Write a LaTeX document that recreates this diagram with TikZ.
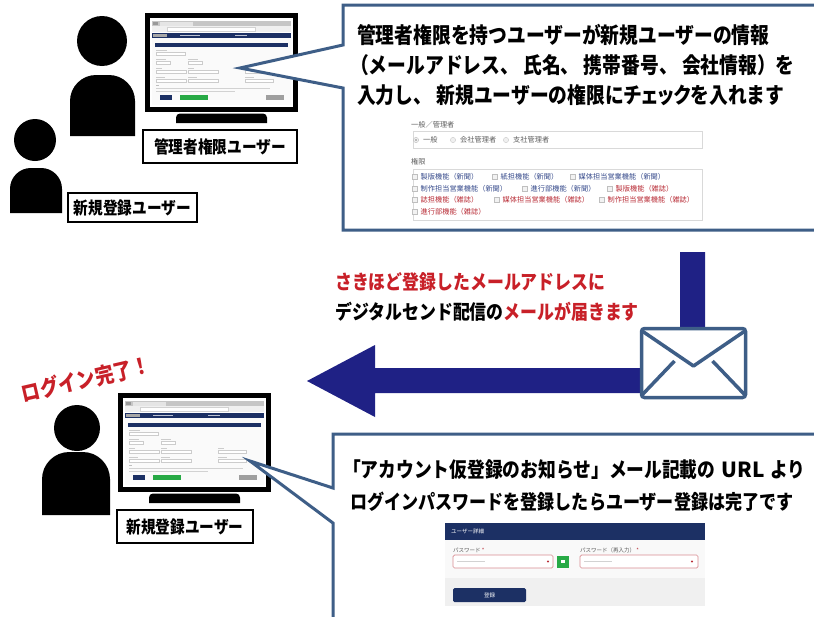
\documentclass[tikz,border=0pt]{standalone}
\usepackage{fontspec}
\newfontfamily\jp[FakeStretch=0.853]{Noto Sans CJK JP}
\newfontfamily\jpui{Noto Sans CJK JP}
\definecolor{slate}{RGB}{62,94,135}
\definecolor{arrowblue}{RGB}{31,33,133}
\definecolor{alertred}{RGB}{200,32,40}
\definecolor{uinavy}{RGB}{28,48,100}
\definecolor{uigreen}{RGB}{40,170,70}
\definecolor{linkblue}{RGB}{55,75,140}
\definecolor{linkred}{RGB}{185,45,55}

% silhouette: x-left, x-right, body top, body bottom, head x, head y, head radius
\newcommand{\silhouette}[7]{%
  \pgfmathsetmacro\bodyR{0.4*(#2-#1)}%
  \fill[black] (#1,#4) -- (#1,#3+\bodyR)
    .. controls (#1,#3+0.45*\bodyR) and (#1+0.45*\bodyR,#3) .. (#1+\bodyR,#3)
    -- (#2-\bodyR,#3)
    .. controls (#2-0.45*\bodyR,#3) and (#2,#3+0.45*\bodyR) .. (#2,#3+\bodyR)
    -- (#2,#4) -- cycle;
  \fill[black] (#5,#6) circle[radius=#7];
}

\tikzset{
  lbl/.style={draw=black, line width=1.8pt, fill=white, inner sep=0pt,
    font=\jp\bfseries\fontsize{17.2}{17.2}\selectfont},
  bigtxt/.style={anchor=base west, inner sep=0pt,
    font=\jp\bfseries\fontsize{22}{22}\selectfont},
  midtxt/.style={anchor=base west, inner sep=0pt,
    font=\jp\bfseries\fontsize{19.8}{19.8}\selectfont},
  lowtxt/.style={anchor=base west, inner sep=0pt,
    font=\jp\bfseries\fontsize{20}{20}\selectfont},
  formtxt/.style={inner sep=0pt, font=\jpui\fontsize{7.2}{7.2}\selectfont},
  tinytxt/.style={inner sep=0pt, font=\jpui\fontsize{5.5}{5.5}\selectfont},
  callout/.style={draw=slate, line width=3pt, fill=white, line join=miter},
  monitor/.pic={
    % bezel and screen
    \fill[black] (0,0) rectangle (153,99);
    \fill[white] (5,5) rectangle (148,94);
    % browser chrome
    \fill[gray!45] (7,8) rectangle (146,13);
    \fill[gray!80] (8,9) rectangle (13,12);
    \fill[gray!20] (15,9) rectangle (48,12.5);
    \fill[gray!12] (7,13) rectangle (146,19);
    \fill[white, draw=gray!35, line width=0.2pt] (22,14.3) rectangle (110,17.7);
    \fill[uinavy] (7,20) rectangle (146,25);
    \fill[gray!70] (8,20.6) rectangle (22,24.4);
    \fill[white!70!uinavy] (35,21.8) rectangle (55,23.2);
    \fill[white!70!uinavy] (90,21.8) rectangle (102,23.2);
    % page body
    \fill[gray!4] (7,25) rectangle (146,92);
    \fill[uinavy] (10,30) rectangle (143,34);
    \fill[gray!40] (11,37) rectangle (22,38.2);
    \fill[white, draw=gray!40, line width=0.2pt] (11,39.5) rectangle (40,42.5);
    \foreach \fx in {11,43}{
      \fill[gray!40] (\fx,46) rectangle (\fx+10,47.2);
      \fill[white, draw=gray!40, line width=0.2pt] (\fx,48.5) rectangle (\fx+14,51.5);
    }
    \foreach \fx/\fw in {11/30,43/30,100/28}{
      \fill[gray!40] (\fx,55) rectangle (\fx+6,56.2);
      \fill[white, draw=gray!40, line width=0.2pt] (\fx,57.5) rectangle (\fx+\fw,60.5);
      \fill[gray!40] (\fx,64) rectangle (\fx+9,65.2);
      \fill[white, draw=gray!40, line width=0.2pt] (\fx,66.5) rectangle (\fx+\fw,69.5);
    }
    \fill[gray!50] (11,72) rectangle (14,73.2);
    \fill[gray!35] (11,75) rectangle (125,76);
    \fill[gray!35] (11,77.5) rectangle (90,78.5);
    % buttons
    \fill[uinavy] (15,82) rectangle (27,86.5);
    \fill[uigreen] (35,82) rectangle (63,86.5);
    \fill[gray!75] (121,82) rectangle (139,86.5);
    % stand
    \fill[black] (31,110) [rounded corners=4pt] -- (31,100.5) -- (122,100.5)
      [sharp corners] -- (122,110) -- cycle;
  }
}

\begin{document}
\begin{tikzpicture}[x=1pt,y=-1pt]
\useasboundingbox (0,0) rectangle (814,616);
\clip (0,0) rectangle (814,616);
\fill[white] (0,0) rectangle (814,616);

% ---------- people ----------
\silhouette{70}{135}{75}{136}{102}{41}{25}
\silhouette{10}{62}{168}{213}{35}{140}{21}
\silhouette{42}{110}{452}{515}{77}{428}{23}

% ---------- monitors ----------
\pic at (145,13) {monitor};
\pic at (118,393) {monitor};

% ---------- role labels ----------
\node[lbl, minimum width=154pt, minimum height=33pt] (adminlbl) at (220,146.5) {管理者権限ユーザー};
\node[lbl, minimum width=129pt, minimum height=29pt] (newlbl) at (132.5,207.5) {新規登録ユーザー};
\node[lbl, minimum width=136pt, minimum height=33pt] (loginlbl) at (185,526.5) {新規登録ユーザー};

% ---------- upper speech bubble ----------
\coordinate (tipA) at (240,68);
\draw[callout] (343,45) -- (343,5) -- (830,5) -- (830,230) -- (343,230) -- (343,88) -- (tipA) -- cycle;
\node[bigtxt] (msgA1) at (357,43.5) {管理者権限を持つユーザーが新規ユーザーの情報};
\node[bigtxt] (msgA2) at (350,73.5) {（メールアドレス、 氏名、 携帯番号、 会社情報）を};
\node[bigtxt] (msgA3) at (357,103.5) {入力し、 新規ユーザーの権限に{\addfontfeature{RawFeature=+palt}チェック}を入れます};

% role selector
\node[formtxt, text=gray!75!black, anchor=west] (roletitle) at (411,125) {一般／管理者};
\draw[gray!30, line width=0.6pt] (413,131.5) rectangle (702,148);
\draw[gray!55, fill=gray!10, line width=0.4pt] (416,140) circle[radius=2.6];
\fill[gray!70] (416,140) circle[radius=1.2];
\node[formtxt, text=gray!75!black, anchor=west] (roleA) at (423,140) {一般};
\draw[gray!45, fill=gray!12, line width=0.4pt] (453,140) circle[radius=2.6];
\node[formtxt, text=gray!75!black, anchor=west] (roleB) at (460,140) {会社管理者};
\draw[gray!45, fill=gray!12, line width=0.4pt] (506,140) circle[radius=2.6];
\node[formtxt, text=gray!75!black, anchor=west] (roleC) at (513,140) {支社管理者};

% permission checkboxes
\node[formtxt, text=gray!75!black, anchor=west] (permtitle) at (411,162) {権限};
\draw[gray!30, line width=0.6pt] (413,169.5) rectangle (702,220);
\foreach \px/\py/\pc/\pt in {
  415/177/linkblue/製版機能（新聞）,
  495/177/linkblue/紙担機能（新聞）,
  573/177/linkblue/媒体担当営業機能（新聞）,
  415/188.5/linkblue/制作担当営業機能（新聞）,
  525/188.5/linkblue/進行部機能（新聞）,
  610/188.5/linkred/製版機能（雑誌）,
  415/200/linkred/誌担機能（雑誌）,
  497/200/linkred/媒体担当営業機能（雑誌）,
  602/200/linkred/制作担当営業機能（雑誌）,
  415/211.5/linkred/進行部機能（雑誌）}{
  \draw[gray!50, fill=gray!10, line width=0.4pt] (\px-2.5,\py-2.5) rectangle (\px+2.5,\py+2.5);
  \node[formtxt, text=\pc, anchor=west] (perm-\px-\py) at (\px+5.5,\py) {\pt};
}

% ---------- mail delivery ----------
\fill[arrowblue] (680,252) -- (705,252) -- (705,393) -- (375,393) -- (375,417)
  -- (307,381) -- (375,345) -- (375,368) -- (680,368) -- cycle;
\node[draw=slate, line width=3.5pt, fill=white, rounded corners=3pt,
  minimum width=104pt, minimum height=69pt, inner sep=0pt] (env) at (693.5,363) {};
\draw[slate, line width=3.5pt, line join=round] ([shift={(2,4)}]env.north west)
  -- ([yshift=-3]env.center) -- ([shift={(-2,4)}]env.north east);
\draw[slate, line width=3.5pt] ([shift={(2,-4)}]env.south west) -- ([shift={(-19,-2)}]env.center);
\draw[slate, line width=3.5pt] ([shift={(-2,-4)}]env.south east) -- ([shift={(19,-2)}]env.center);

\node[midtxt, text=alertred] (mailA) at (335,289) {さきほど登録したメールアドレスに};
\node[midtxt] (mailB) at (335,319) {デジタルセンド配信の\textcolor{alertred}{メールが届きます}};

% ---------- login done ----------
\node[inner sep=0pt, text=alertred, rotate=13,
  font=\jp\bfseries\fontsize{22}{22}\selectfont] (done) at (86,379) {ログイン完了！};

% ---------- lower speech bubble ----------
\coordinate (tipB) at (250,461);
\draw[callout] (333,488) -- (333,434) -- (830,434) -- (830,630) -- (333,630) -- (333,523) -- (tipB) -- cycle;
\node[lowtxt, font=\jp\bfseries\fontsize{20.8}{20.8}\selectfont] (msgB1) at (343,477.5)
  {「アカウント仮登録のお知らせ」メール記載の\hspace{6pt}{\jpui\bfseries URL}\hspace{6pt}より};
\node[lowtxt] (msgB2) at (350,509.5) {ログインパスワードを登録したらユーザー登録は完了です};

% password form
\fill[gray!5] (445,540) rectangle (705,578);
\fill[gray!12] (445,578) rectangle (705,606);
\fill[uinavy] (445,523) rectangle (705,540);
\node[tinytxt, text=white, anchor=west] (formhead) at (451,531.5) {ユーザー詳細};
\node[tinytxt, text=gray!70!black, anchor=west] (pwlabel) at (453,550.5) {パスワード \textcolor{linkred}{*}};
\node[tinytxt, text=gray!70!black, anchor=west] (pwlabel2) at (580,550.5) {パスワード（再入力） \textcolor{linkred}{*}};
\draw[linkred!55, fill=white, line width=0.7pt, rounded corners=1.5pt] (453,555) rectangle (553,568);
\fill[gray!35] (457,560.8) rectangle (485,562.2);
\fill[linkred] (548,561.5) circle[radius=1.1];
\fill[uigreen] (557,555.5) rectangle (569,567.5);
\fill[white] (561,560) rectangle (565,563);
\draw[linkred!55, fill=white, line width=0.7pt, rounded corners=1.5pt] (580,555) rectangle (698,568);
\fill[gray!35] (584,560.8) rectangle (612,562.2);
\fill[linkred] (692,561.5) circle[radius=1.1];
\node[fill=uinavy, rounded corners=1.5pt, minimum width=73pt, minimum height=14pt,
  inner sep=0pt, tinytxt, text=white] (submit) at (489.5,595) {登録};
\end{tikzpicture}
\end{document}
